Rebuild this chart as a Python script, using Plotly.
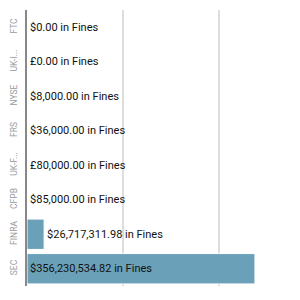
import plotly.graph_objects as go

agencies = ["FTC", "UK-I...", "NYSE", "FRS", "UK-F...", "CFPB", "FINRA", "SEC"]
fines = [0.0, 0.0, 8000.0, 36000.0, 80000.0, 85000.0, 26717311.98, 356230534.82]
labels = ["$0.00 in Fines", "£0.00 in Fines", "$8,000.00 in Fines", "$36,000.00 in Fines",
          "£80,000.00 in Fines", "$85,000.00 in Fines", "$26,717,311.98 in Fines",
          "$356,230,534.82 in Fines"]
positions = ["outside"] * 7 + ["inside"]

tf = dict(family="Roboto", size=11, color="#111")
fig = go.Figure(go.Bar(
    y=agencies, x=fines, orientation="h",
    text=labels, textposition=positions, insidetextanchor="start",
    textfont=tf, outsidetextfont=tf, insidetextfont=tf,
    marker=dict(color="#6aa0b8", line=dict(color="#ffffff", width=1)),
    cliponaxis=False,
    width=0.88,
))

fig.update_layout(
    width=300, height=300,
    margin=dict(l=27, r=10, t=10, b=14),
    paper_bgcolor="white", plot_bgcolor="white",
    showlegend=False,
    xaxis=dict(range=[0, 411e6], dtick=150e6, tick0=0, showticklabels=False,
               showgrid=True, gridcolor="#dddddd", gridwidth=2, zeroline=False,
               showline=False, fixedrange=True),
    yaxis=dict(autorange="reversed", tickangle=-90, showline=True, linecolor="#888888",
               linewidth=2, ticks="", ticklabelstandoff=5,
               tickfont=dict(family="Roboto", size=8.5, color="#999999"),
               showgrid=False, fixedrange=True),
)

fig.write_html("out.html")
